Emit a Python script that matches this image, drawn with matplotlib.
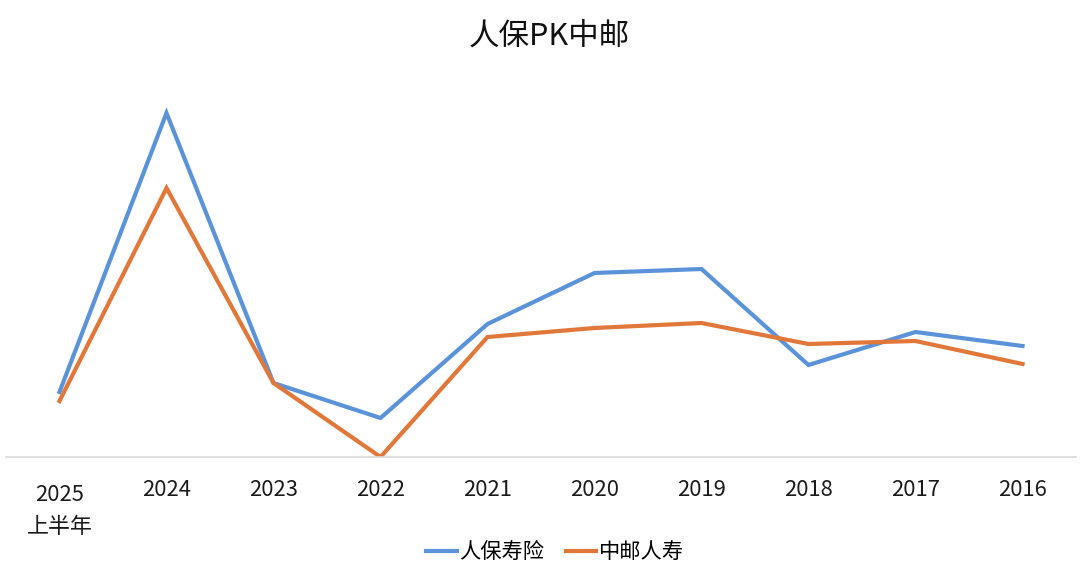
import matplotlib
matplotlib.use("Agg")
import matplotlib.pyplot as plt
import matplotlib.transforms as mtransforms

plt.rcParams['font.family'] = ['Noto Sans CJK SC', 'DejaVu Sans']

categories = ["2025\n上半年", "2024", "2023", "2022", "2021", "2020", "2019", "2018", "2017", "2016"]
picc_life = [65, 344, 74, 39, 133, 184, 188, 92, 125, 111]
post_life = [56, 269, 74, 0, 120, 129, 134, 113, 116, 93]

blue = "#5B93DA"
orange = "#E2773A"

fig = plt.figure(figsize=(10.8, 5.76), dpi=100)
ax = fig.add_axes([6/1080, (576-457)/576, 1070/1080, (457-85)/576])

x = list(range(len(categories)))
ax.plot(x, picc_life, color=blue, lw=3, label="人保寿险", solid_joinstyle='miter')
ax.plot(x, post_life, color=orange, lw=3, label="中邮人寿", solid_joinstyle='miter')

ax.set_xlim(-0.5, len(categories) - 0.5)
ax.set_ylim(0, 372)
for s in ["top", "right", "left"]:
    ax.spines[s].set_visible(False)
ax.spines["bottom"].set_color("#D9D9D9")
ax.spines["bottom"].set_linewidth(1.2)
ax.set_yticks([])
ax.set_xticks(x)
ax.set_xticklabels(categories, fontsize=15.8, color="#1a1a1a", linespacing=1.6)
ax.tick_params(axis='x', length=0, pad=16)
lbl = ax.get_xticklabels()[0]
lbl.set_transform(lbl.get_transform() + mtransforms.ScaledTranslation(0, -5/100, fig.dpi_scale_trans))

fig.suptitle("人保PK中邮", fontsize=22, x=549/1080, y=1 - 36/576, va='center', color="#111111")

leg = fig.legend(loc="center", bbox_to_anchor=(555/1080, 1 - 552/576), ncol=2, frameon=False,
                 fontsize=15.3, handlelength=1.45, handletextpad=0.1, columnspacing=1.0)

fig.savefig("out.png", dpi=100)
